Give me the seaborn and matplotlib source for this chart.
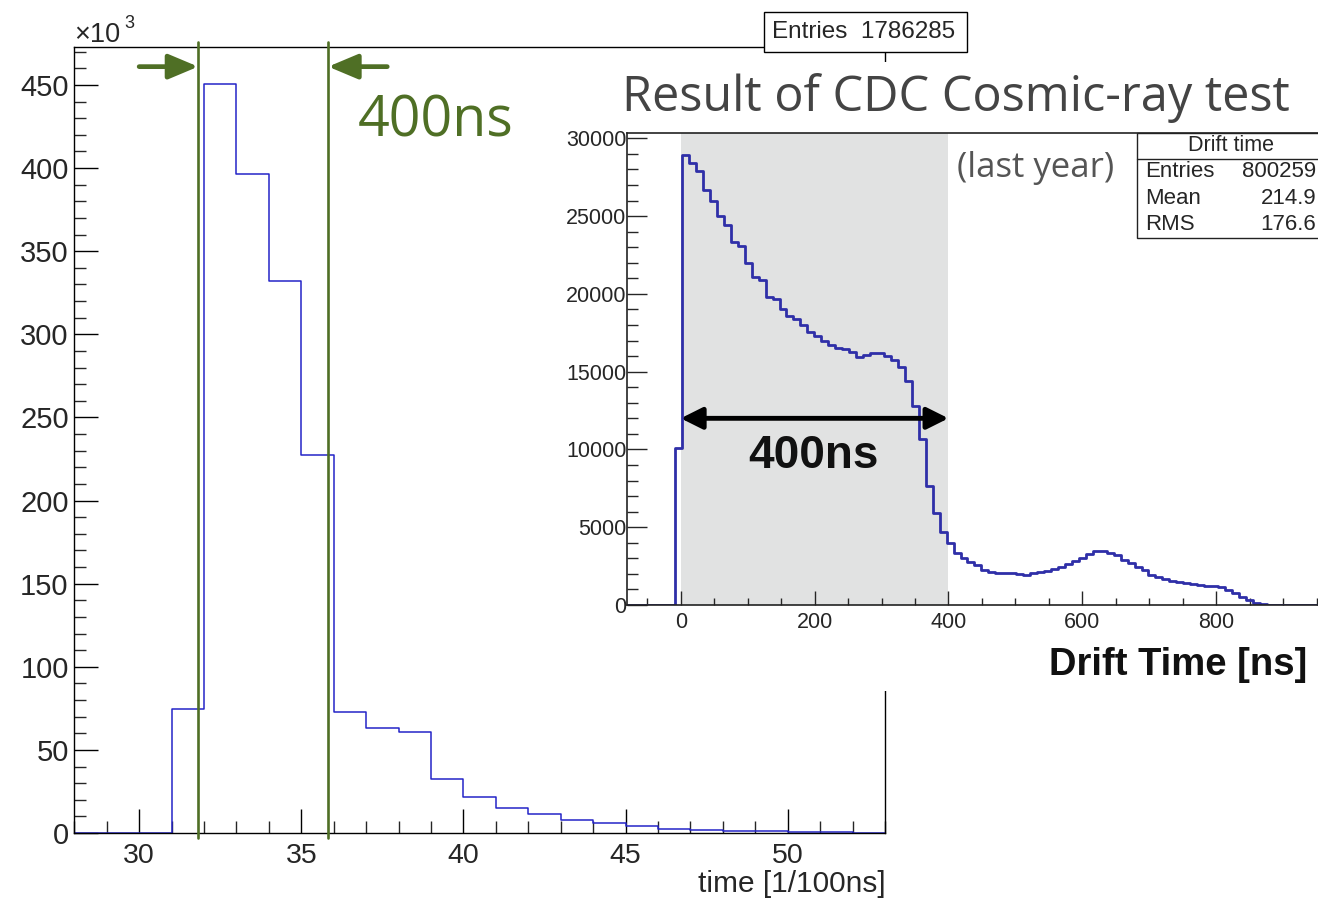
import numpy as np
import pandas as pd
import matplotlib
matplotlib.use("Agg")
import matplotlib.pyplot as plt
from matplotlib.patches import Rectangle
from matplotlib.lines import Line2D
from matplotlib.ticker import MultipleLocator
import seaborn as sns

# ---------------- data ----------------
# main histogram: time [1/100 ns], counts in units of 10^3
main_edges = [28, 29, 30, 31, 32, 33, 34, 35, 36, 37, 38, 39, 40, 41, 42, 43,
              44, 45, 46, 47, 48, 49, 50, 51, 52, 53]
main_counts = [0, 0, 0, 74.4, 450.5, 396.7, 332.3, 227.1, 73.0, 63.4, 60.6, 32.5,
               21.8, 15.2, 11.2, 7.8, 6.0, 4.2, 2.6, 2.0, 1.4, 1.0, 0.6, 0.35, 0.2]
main_entries = "1786285"
window_lines = [31.82, 35.83]          # 400 ns window marks
main_xticks = [30, 35, 40, 45, 50]
main_yticks = [0, 50, 100, 150, 200, 250, 300, 350, 400, 450]

# inset histogram (last year): drift time [ns]
inset_first_edge = -81.2
inset_bin_width = 10.4
inset_counts = [0, 0, 0, 0, 0, 0, 0,
                10100, 28900, 28400, 27900, 26700, 25950, 25000, 24450, 23350, 23100,
                22000, 21100, 20900, 19800, 19700, 19000, 18600, 18400, 18000, 17550,
                17300, 17000, 16700, 16500, 16450, 16270, 15950, 16100, 16200, 16170,
                16020, 15780, 15300, 14400, 12800, 10700, 7630, 5900, 4720, 3970,
                3340, 3000, 2780, 2570, 2250, 2140, 2080, 2030, 2030, 1990,
                1930, 2030, 2140, 2200, 2310, 2460, 2630, 2850, 3000, 3250,
                3470, 3470, 3360, 3210, 2890, 2680, 2460, 2250, 1930, 1820,
                1670, 1540, 1460, 1390, 1330, 1280, 1240, 1220, 1130, 960,
                750, 540, 320, 110, 40, 0, 0, 0, 0, 0, 0, 0, 0, 0]
inset_window = [0, 400]
inset_xticks = [0, 200, 400, 600, 800]
inset_yticks = [0, 5000, 10000, 15000, 20000, 25000, 30000]
stats_labels = ["Entries", "Mean", "RMS"]
stats_values = ["800259", "214.9", "176.6"]

# ---------------- style ----------------
sns.set_style("white")
plt.rcParams["font.family"] = ["Liberation Sans", "DejaVu Sans"]
plt.rcParams["axes.linewidth"] = 1.0

W, H = 1318, 899
fig = plt.figure(figsize=(W / 100, H / 100), dpi=100)


def fx(px):
    return px / W


def fy(py):
    return 1 - py / H


BLUE = "#2424c8"
GREEN = "#4f6f25"

# ---------------- main axes ----------------
ax = fig.add_axes([fx(74.3), fy(833), fx(885) - fx(74.3), fy(46.7) - fy(833)])
ax.set_zorder(0)
main_df = pd.DataFrame({
    "time": [(a + b) / 2 for a, b in zip(main_edges[:-1], main_edges[1:])],
    "count": main_counts,
})
sns.histplot(data=main_df, x="time", weights="count", bins=main_edges,
             element="step", fill=False, color=BLUE, linewidth=1.1, ax=ax)
ax.set_xlim(28, 53)
ax.set_ylim(0, 473)
ax.set_xlabel("")
ax.set_ylabel("")
ax.set_xticks(main_xticks)
ax.set_yticks(main_yticks)
ax.xaxis.set_minor_locator(MultipleLocator(1))
ax.yaxis.set_minor_locator(MultipleLocator(10))
ax.tick_params(which="major", direction="in", length=17, width=1.0,
               labelsize=21, color="black", bottom=True, left=True, top=False, right=False)
ax.tick_params(which="minor", direction="in", length=8.5, width=1.0,
               bottom=True, left=True, top=False, right=False)
ax.tick_params(axis="x", which="major", pad=7, labelsize=20.5)
ax.tick_params(axis="y", which="major", pad=4)
for s in ax.spines.values():
    s.set_color("black")
    s.set_linewidth(1.0)

for xl in window_lines:
    ax.plot([xl, xl], [-3, 476], color=GREEN, lw=1.9, clip_on=False, zorder=4)

arrow_y = 461
ax.annotate("", xy=(window_lines[0], arrow_y), xytext=(30.0, arrow_y),
            arrowprops=dict(arrowstyle="-|>,head_length=1.0,head_width=0.42",
                            mutation_scale=18, lw=3.4, color=GREEN,
                            shrinkA=0, shrinkB=0))
ax.annotate("", xy=(window_lines[1], arrow_y), xytext=(37.65, arrow_y),
            arrowprops=dict(arrowstyle="-|>,head_length=1.0,head_width=0.42",
                            mutation_scale=18, lw=3.4, color=GREEN,
                            shrinkA=0, shrinkB=0))
ax.text(36.73, 418.7, "400ns", color=GREEN, fontsize=40, family="Open Sans",
        ha="left", va="baseline")

fig.text(fx(74), fy(42), "×10", fontsize=19.5, ha="left", va="baseline")
fig.text(fx(124.5), fy(28.5), "3", fontsize=13, ha="left", va="baseline")
fig.text(fx(886), fy(892), "time [1/100ns]", fontsize=21.5, ha="right", va="baseline")

# white area of the pasted inset picture
fig.patches.append(Rectangle((fx(552), fy(691)), 1 - fx(552), fy(62) - fy(691),
                             transform=fig.transFigure, facecolor="white",
                             edgecolor="none", zorder=1))

# entries box of the main histogram
fig.patches.append(Rectangle((fx(764), fy(52)), fx(967) - fx(764), fy(12) - fy(52),
                             transform=fig.transFigure, facecolor="white",
                             edgecolor="black", lw=1.0, zorder=5))
fig.text(fx(864), fy(32), "Entries  " + main_entries, fontsize=17.5,
         ha="center", va="center", zorder=6)

# ---------------- inset axes ----------------
axi = fig.add_axes([fx(626.7), fy(605), 1.0 - fx(626.7) + 0.002, fy(132.7) - fy(605)])
axi.set_zorder(2)
n_in = len(inset_counts)
inset_edges = [round(inset_first_edge + inset_bin_width * i, 2) for i in range(n_in + 1)]
inset_df = pd.DataFrame({
    "drift": [(a + b) / 2 for a, b in zip(inset_edges[:-1], inset_edges[1:])],
    "count": inset_counts,
})
axi.axvspan(inset_window[0], inset_window[1], color="#e1e2e2", zorder=0, lw=0)
sns.histplot(data=inset_df, x="drift", weights="count", bins=inset_edges,
             element="step", fill=False, color="#2f2fa8", linewidth=2.0, ax=axi)
axi.set_xlim(-80.7, 956)
axi.set_ylim(0, 30360)
axi.set_xlabel("")
axi.set_ylabel("")
axi.set_xticks(inset_xticks)
axi.set_yticks(inset_yticks)
axi.xaxis.set_minor_locator(MultipleLocator(50))
axi.yaxis.set_minor_locator(MultipleLocator(1000))
axi.tick_params(axis="y", which="major", direction="in", length=14.5, width=1.0,
                labelsize=15.5, pad=0.3, left=True, right=False)
axi.tick_params(axis="y", which="minor", direction="in", length=7.7, width=1.0,
                left=True, right=False)
axi.tick_params(axis="x", which="major", direction="in", length=10, width=1.0,
                labelsize=15.5, pad=5, bottom=True, top=False)
axi.tick_params(axis="x", which="minor", direction="in", length=5, width=1.0,
                bottom=True, top=False)
axi.spines["right"].set_visible(False)
for s in ["left", "bottom", "top"]:
    axi.spines[s].set_color("#222222")
    axi.spines[s].set_linewidth(1.2)

axi.annotate("", xy=(inset_window[0], 12000), xytext=(inset_window[1], 12000),
             arrowprops=dict(arrowstyle="<|-|>,head_length=1.0,head_width=0.5",
                             mutation_scale=13, lw=3.5, color="black",
                             shrinkA=0, shrinkB=0))
axi.text(198, 9600, "400ns", fontsize=33, fontweight="bold", ha="center",
         va="center", color="#111111")

fig.text(fx(622), fy(111), "Result of CDC Cosmic-ray test", fontsize=35,
         family="Open Sans", color="#444444", ha="left", va="baseline", zorder=4)
fig.text(fx(957), fy(177), "(last year)", fontsize=25, family="Open Sans",
         color="#555555", ha="left", va="baseline", zorder=4)
fig.text(fx(1307), fy(665), "Drift Time [ns]", fontsize=27.5, fontweight="bold",
         ha="right", va="center", zorder=4, color="#111111")

# stats box of the inset
fig.patches.append(Rectangle((fx(1137), fy(238)), 1.01 - fx(1137), fy(133) - fy(238),
                             transform=fig.transFigure, facecolor="white",
                             edgecolor="#222222", lw=1.0, zorder=5))
fig.lines.append(Line2D([fx(1137), 1.0], [fy(158.5), fy(158.5)],
                        transform=fig.transFigure, color="#222222", lw=1.0, zorder=6))
fig.text(fx(1231), fy(145.5), "Drift time", fontsize=15.5, ha="center",
         va="center", zorder=7)
for lab, val, yy in zip(stats_labels, stats_values, [171.5, 198, 225]):
    fig.text(fx(1145), fy(yy), lab, fontsize=16, ha="left", va="center", zorder=7)
    fig.text(fx(1316), fy(yy), val, fontsize=16, ha="right", va="center", zorder=7)

fig.savefig("out.png", dpi=100, facecolor="white")
